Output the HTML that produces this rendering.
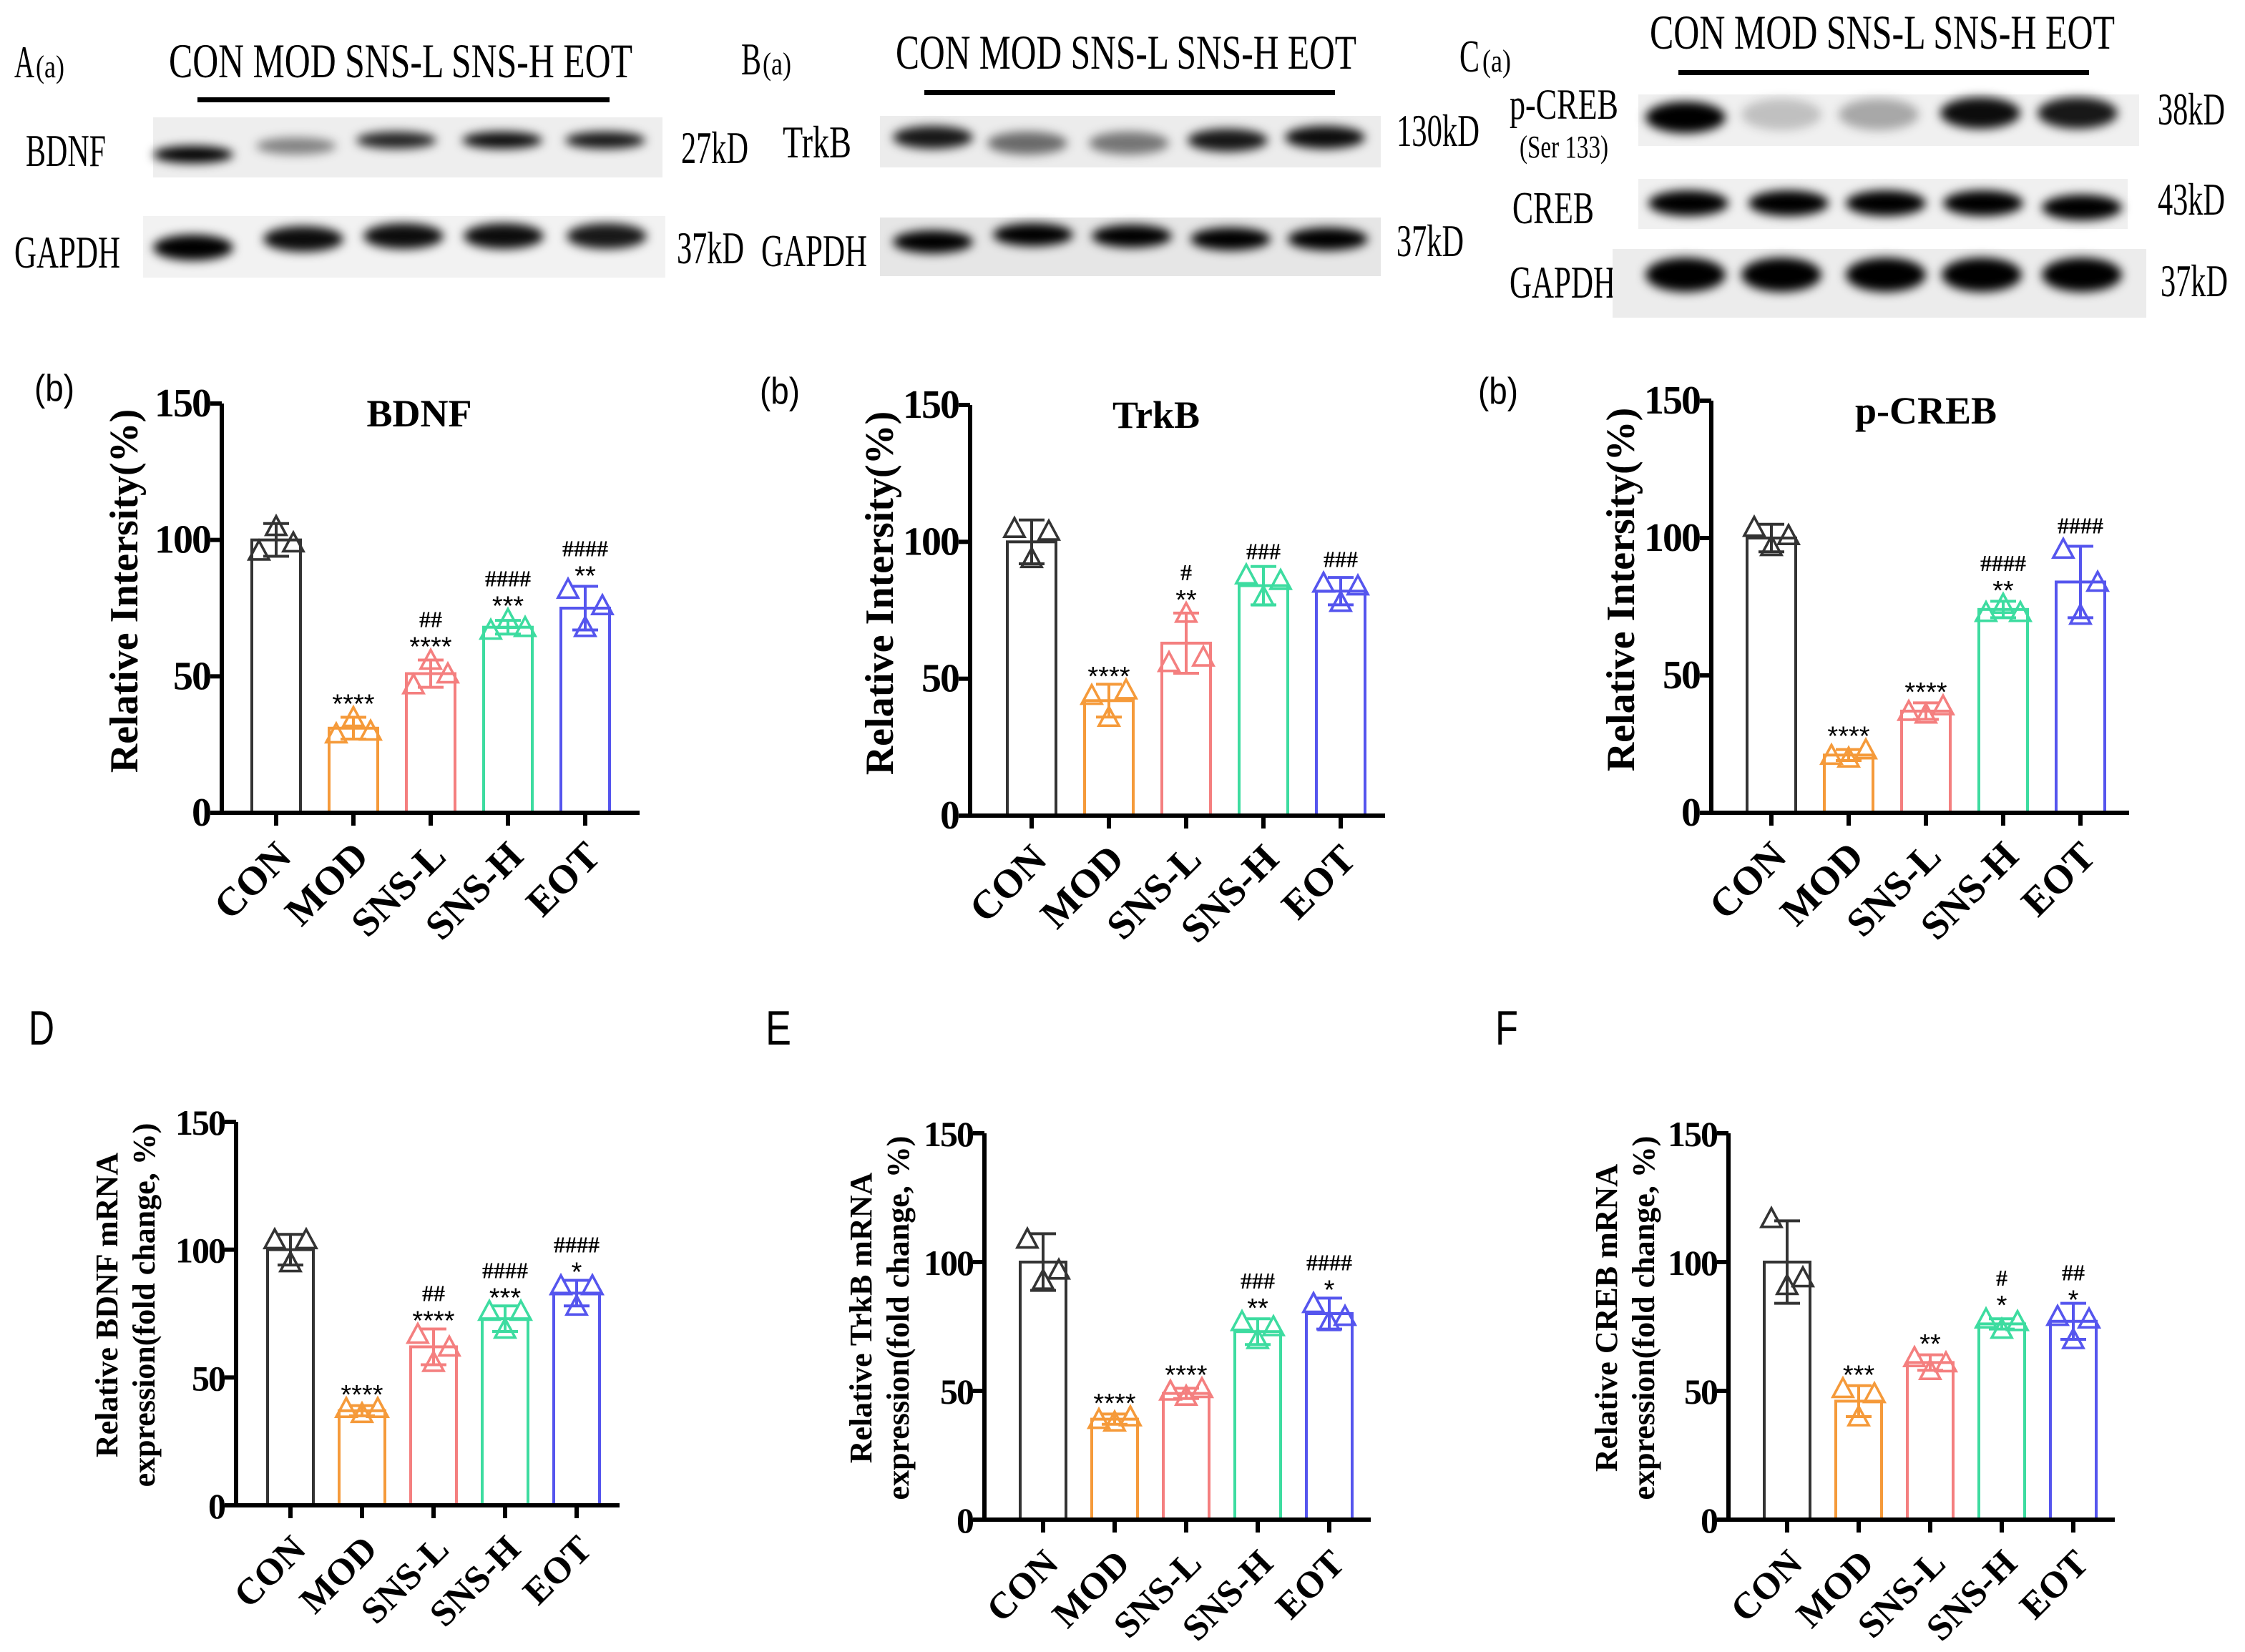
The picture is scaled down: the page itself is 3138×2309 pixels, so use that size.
<!DOCTYPE html>
<html><head><meta charset="utf-8"><style>
html,body{margin:0;padding:0;background:#fff;}
svg{display:block;}
.ser{font-family:"Liberation Serif",serif;}
.sans{font-family:"Liberation Sans",sans-serif;}
</style></head>
<body>
<svg id="fig" width="3138" height="2309" viewBox="0 0 1569 1154.5" xmlns="http://www.w3.org/2000/svg">
<defs>
<filter id="blur" x="-50%" y="-100%" width="200%" height="300%"><feGaussianBlur stdDeviation="3.5"/></filter>
</defs>
<g id="blots"></g>
<g id="charts"></g>
</svg>
<script>
// ---------- chart data ----------
const categories = ["CON","MOD","SNS-L","SNS-H","EOT"];
const colors = ["#333333","#f59a3a","#f47f7f","#3ddca0","#5555ee"];
const bdnfMeans = [100,31,51,68,75];
const bdnfSD = [6,4,5,2.5,8];
const bdnfPts = [[96,105,99],[29,35,30],[47,56,51],[67,71,68],[82,68,76]];
const bdnfStars = ["","****","****","***","**"];
const bdnfHash = ["","","##","####","####"];
const trkbMeans = [100,42,63,84,82];
const trkbSD = [8,6,11,7,5];
const trkbPts = [[105,94,104],[44,36,46],[56,74,58],[88,80,86],[85,78,84]];
const trkbStars = ["","****","**","",""];
const trkbHash = ["","","#","###","###"];
const pcrebMeans = [100,21,37,74,84];
const pcrebSD = [5,2,3,3,13];
const pcrebPts = [[104,97,101],[21,20,23],[37,36,39],[73,76,73],[96,72,84]];
const pcrebStars = ["","****","****","**",""];
const pcrebHash = ["","","","####","####"];
const dMeans = [100,37,62,73,83];
const dSD = [6,2,7,5,5];
const dPts = [[104,95,104],[38,36,38],[67,56,62],[76,69,76],[86,78,86]];
const dStars = ["","****","****","***","*"];
const dHash = ["","","##","####","####"];
const eMeans = [100,39,49,73,80];
const eSD = [11,2,2,5,6];
const ePts = [[109,93,97],[39,38,40],[50,48,51],[77,70,75],[84,77,79]];
const eStars = ["","****","****","**","*"];
const eHash = ["","","","###","####"];
const fMeans = [100,46,61,76,77];
const fSD = [16,6,3,2,7];
const fPts = [[117,91,94],[51,40,49],[63,58,61],[78,74,77],[79,70,78]];
const fStars = ["","***","**","*","*"];
const fHash = ["","","","#","##"];
const yTicks = [0,50,100,150];

const NS="http://www.w3.org/2000/svg";
function mk(tag, attrs, parent, txt){
  const e=document.createElementNS(NS,tag);
  for(const k in attrs) e.setAttribute(k,attrs[k]);
  if(txt!==undefined) e.textContent=txt;
  parent.appendChild(e); return e;
}
const charts=document.getElementById('charts');
const blots=document.getElementById('blots');

function drawChart(cfg){
  const g=mk('g',{},charts);
  
  
  const y=v=>cfg.y0-(v/150)*(cfg.y0-cfg.y150);
  const x=i=>cfg.bx0+i*cfg.dx;
  const bw=cfg.bw;
  cfg.means.forEach((m,i)=>{
    const r=mk('rect',{x:x(i)-bw/2,y:y(m),width:bw,height:cfg.y0-y(m),fill:'none',stroke:colors[i],'stroke-width':2},g);
    
    
    const sd=cfg.sd[i];
    mk('line',{x1:x(i),x2:x(i),y1:y(m+sd),y2:y(m-sd),stroke:colors[i],'stroke-width':2},g);
    mk('line',{x1:x(i)-9,x2:x(i)+9,y1:y(m+sd),y2:y(m+sd),stroke:colors[i],'stroke-width':2},g);
    mk('line',{x1:x(i)-9,x2:x(i)+9,y1:y(m-sd),y2:y(m-sd),stroke:colors[i],'stroke-width':2},g);
    const offs=[-bw/2+5,0,bw/2-5];
    cfg.pts[i].forEach((p,j)=>{
      const px=x(i)+offs[j], py=y(p);
      const t=mk('polygon',{points:`${px},${py-7} ${px-7},${py+6} ${px+7},${py+6}`,fill:'none',stroke:colors[i],'stroke-width':1.8},g);
      
      
    });
    const top=Math.min(y(m+sd), ...cfg.pts[i].map(p=>y(p)-7));
    let ay=top-4;
    if(cfg.stars[i]){
      const s=mk('text',{x:x(i),y:ay+8,'text-anchor':'middle','font-size':19,class:'sans'},g,cfg.stars[i]);
      
      
      ay-=12;
    }
    if(cfg.hash[i]){
      const h=mk('text',{x:x(i),y:ay,'text-anchor':'middle','font-size':16,'font-weight':'bold',class:'ser'},g,cfg.hash[i]);
      
      
    }
  });
  const ya=mk('line',{x1:cfg.ax,x2:cfg.ax,y1:cfg.y150,y2:cfg.y0+1.5,stroke:'#000','stroke-width':3},g);
  
  
  const xa=mk('line',{x1:cfg.ax-1.5,x2:cfg.axEnd,y1:cfg.y0,y2:cfg.y0,stroke:'#000','stroke-width':3},g);
  
  
  yTicks.forEach(v=>{
    mk('line',{x1:cfg.ax-8,x2:cfg.ax,y1:y(v),y2:y(v),stroke:'#000','stroke-width':3},g);
    const t=mk('text',{x:cfg.ax-8,y:y(v)+9,'text-anchor':'end','font-size':cfg.tickFs,'font-weight':'bold',class:'ser','letter-spacing':-1},g,String(v));
    
    
  });
  categories.forEach((c,i)=>{
    mk('line',{x1:x(i),x2:x(i),y1:cfg.y0,y2:cfg.y0+9,stroke:'#000','stroke-width':3},g);
    const t=mk('text',{x:x(i)+12,y:cfg.y0+32,'text-anchor':'end','font-size':cfg.catFs,'font-weight':'bold',class:'ser',transform:`rotate(-45 ${x(i)+12} ${cfg.y0+32})`},g,c);
    
    
  });
  if(cfg.title){
    const t=mk('text',{x:cfg.titleX,y:cfg.y150+16,'text-anchor':'middle','font-size':27,'font-weight':'bold',class:'ser'},g,cfg.title);
    
    
  }
  const midY=(cfg.y0+cfg.y150)/2+cfg.ylabShift;
  cfg.ylab.forEach((l,k)=>{
    const lx=cfg.ylabX+k*cfg.ylabGap;
    const t=mk('text',{x:lx,y:midY,'text-anchor':'middle','font-size':cfg.ylabFs,'font-weight':'bold',class:'ser',transform:`rotate(-90 ${lx} ${midY})`},g,l);
    
    
  });
}

const topCommon={bw:34,dx:54,tickFs:28,catFs:28,ylabFs:28,ylabGap:0,ylabShift:-12};
drawChart(Object.assign({},topCommon,{name:'chart-bdnf-protein',ax:155,axEnd:447,y0:568,y150:282,bx0:193,means:bdnfMeans,sd:bdnfSD,pts:bdnfPts,stars:bdnfStars,hash:bdnfHash,title:'BDNF',titleX:293,ylab:['Relative Intersity(%)'],ylabX:96}));
drawChart(Object.assign({},topCommon,{name:'chart-trkb-protein',ax:678,axEnd:968,y0:570,y150:283,bx0:721,means:trkbMeans,sd:trkbSD,pts:trkbPts,stars:trkbStars,hash:trkbHash,title:'TrkB',titleX:808,ylab:['Relative Intersity(%)'],ylabX:624}));
drawChart(Object.assign({},topCommon,{name:'chart-pcreb-protein',ax:1196,axEnd:1488,y0:568,y150:280,bx0:1238,means:pcrebMeans,sd:pcrebSD,pts:pcrebPts,stars:pcrebStars,hash:pcrebHash,title:'p-CREB',titleX:1346,ylab:['Relative Intersity(%)'],ylabX:1142}));
const botCommon={bw:32,dx:50,tickFs:25,catFs:26,ylabFs:22,ylabGap:26,ylabShift:-6};
drawChart(Object.assign({},botCommon,{name:'chart-bdnf-mrna',ax:165,axEnd:433,y0:1052,y150:784,bx0:203,means:dMeans,sd:dSD,pts:dPts,stars:dStars,hash:dHash,ylab:['Relative BDNF mRNA','expression(fold change, %)'],ylabX:82}));
drawChart(Object.assign({},botCommon,{name:'chart-trkb-mrna',ax:688,axEnd:958,y0:1062,y150:792,bx0:729,means:eMeans,sd:eSD,pts:ePts,stars:eStars,hash:eHash,ylab:['Relative TrkB mRNA','expression(fold change, %)'],ylabX:609}));
drawChart(Object.assign({},botCommon,{name:'chart-creb-mrna',ax:1208,axEnd:1478,y0:1062,y150:792,bx0:1249,means:fMeans,sd:fSD,pts:fPts,stars:fStars,hash:fHash,ylab:['Relative CREB mRNA','expression(fold change, %)'],ylabX:1130}));

[["(b)",24,280,26,28],["(b)",531,282,26,28],["(b)",1033,282,26,28],["D",20,730,34,18],["E",535,730,34,18],["F",1045,730,34,16]].forEach(p=>{
  const t=mk('text',{x:p[1],y:p[2],'font-size':p[3],class:'sans',textLength:p[4],lengthAdjust:'spacingAndGlyphs'},charts,p[0]);
  
  
});

function ctext(x,y,s,fs,w){
  return mk('text',{x:x,y:y,'font-size':fs,class:'ser',textLength:w,lengthAdjust:'spacingAndGlyphs'},blots,s);
}
function strip(name,x,y,w,h,bandY,bandH,lanes,alphas,bg){
  const g=mk('g',{},blots);
  
  
  mk('rect',{x:x,y:y,width:w,height:h,fill:bg||'#efefef'},g);
  const bg2=mk('g',{filter:'url(#blur)'},g);
  lanes.forEach((lx,i)=>{
    mk('ellipse',{cx:lx,cy:bandY[i],rx:28,ry:bandH,fill:'#000','fill-opacity':alphas[i]},bg2);
  });
}
// A
ctext(10,54,'A',32,14); ctext(25,54,'(a)',22,20);
ctext(118,54,'CON MOD SNS-L SNS-H EOT',34,324);
mk('rect',{x:138,y:68,width:288,height:3.5,fill:'#000'},blots);
ctext(18,116,'BDNF',32,56); ctext(10,187,'GAPDH',32,74);
ctext(476,114,'27kD',32,47); ctext(473,184,'37kD',32,47);
strip('blot-bdnf',107,82,356,42,[108,102,98,98,98],6,[135,207,277,351,423],[1,0.45,0.85,0.95,0.9],'#eeeeee');
strip('blot-gapdh-a',100,151,365,43,[173,167,165,165,165],9,[135,212,282,352,424],[1,0.95,0.95,0.95,0.9],'#f2f2f2');
// B
ctext(518,52,'B',32,14); ctext(533,52,'(a)',22,20);
ctext(626,48,'CON MOD SNS-L SNS-H EOT',34,322);
mk('rect',{x:646,y:63,width:287,height:3.5,fill:'#000'},blots);
ctext(547,110,'TrkB',32,48); ctext(532,186,'GAPDH',32,74);
ctext(976,102,'130kD',32,58); ctext(976,179,'37kD',32,47);
strip('blot-trkb',615,81,350,36,[96,100,100,98,96],8,[652,718,789,858,926],[0.9,0.55,0.5,0.9,0.95],'#ececec');
strip('blot-gapdh-b',615,152,350,41,[169,164,165,167,167],8,[652,722,791,860,928],[1,1,1,1,1],'#e6e6e6');
// C
ctext(1020,50,'C',32,14); ctext(1036,50,'(a)',22,20);
ctext(1153,34,'CON MOD SNS-L SNS-H EOT',34,325);
mk('rect',{x:1173,y:49,width:287,height:3.5,fill:'#000'},blots);
ctext(1055,83,'p-CREB',30,76); ctext(1062,110,'(Ser 133)',22,62);
ctext(1057,156,'CREB',32,57); ctext(1055,208,'GAPDH',32,74);
ctext(1508,87,'38kD',32,47); ctext(1508,150,'43kD',32,47); ctext(1510,207,'37kD',32,47);
strip('blot-pcreb',1145,66,350,36,[82,80,80,79,79],11,[1178,1245,1313,1384,1452],[1,0.2,0.3,0.95,0.9],'#f0f0f0');
strip('blot-creb',1145,125,342,35,[142,142,142,142,145],9,[1180,1250,1318,1386,1455],[1,1,1,1,1],'#f0f0f0');
strip('blot-gapdh-c',1127,174,373,48,[192,192,192,192,192],12,[1178,1245,1318,1385,1455],[1,1,1,1,1],'#ececec');
</script>
</body></html>
